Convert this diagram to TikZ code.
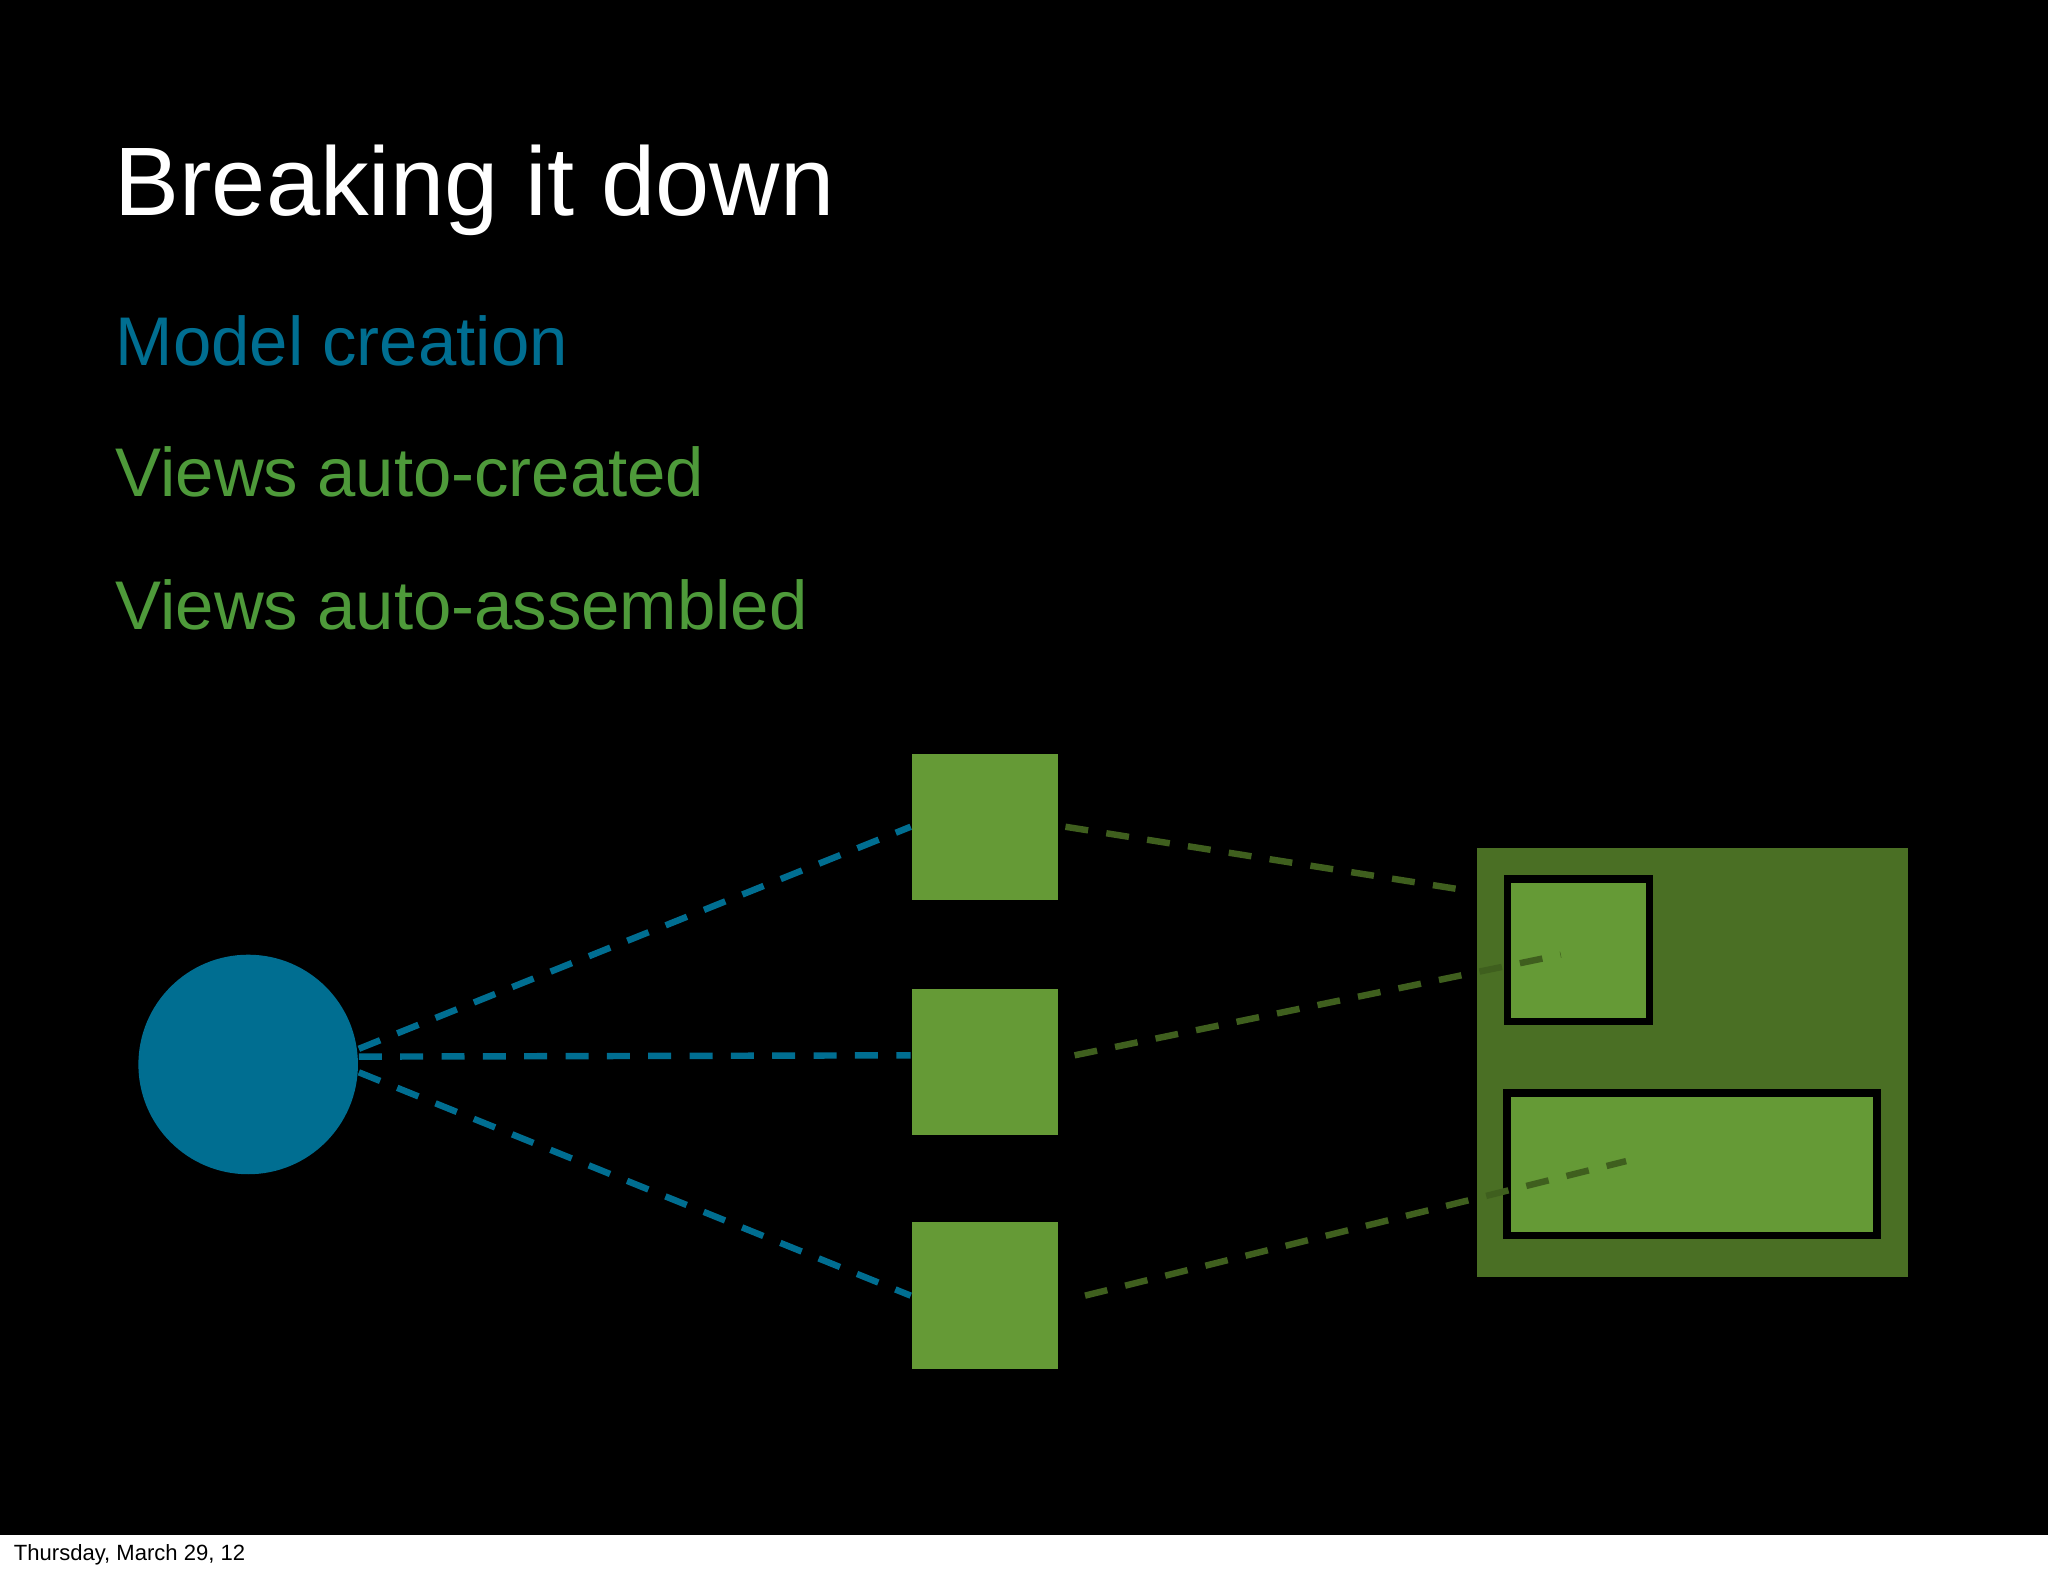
\documentclass[tikz,border=0pt]{standalone}
\usepackage{fontspec}
\setmainfont{Liberation Sans}
\usetikzlibrary{positioning}
\definecolor{modelblue}{HTML}{006E91}
\definecolor{viewgreen}{HTML}{659A36}
\definecolor{darkgreen}{HTML}{4A6F24}
\definecolor{linegreen}{HTML}{3F5F1E}
\definecolor{textgreen}{HTML}{4E9A3A}
\tikzset{
  bullet/.style={anchor=base west, inner sep=0pt, font=\fontsize{15}{18}\selectfont},
  view/.style={fill=viewgreen, minimum width=1.12cm, minimum height=1.12cm, inner sep=0pt},
  link/.style={line width=1.4pt, dash pattern=on 5pt off 4pt},
}
\begin{document}
\begin{tikzpicture}[x=0.01cm, y=-0.01cm]
\useasboundingbox (0,0) rectangle (1568,1207);
\fill[white] (0,0) rectangle (1568,1207);
\fill[black] (0,0) rectangle (1568,1175);

% text
\node[anchor=base west, inner sep=0pt, white, font=\fontsize{21.2}{26}\selectfont] (title) at (87,165) {Breaking it down};
\node[bullet, modelblue] (model) at (88,280) {Model creation};
\node[bullet, textgreen] (created) at (88,380) {Views auto-created};
\node[bullet, textgreen] (assembled) at (88,482) {Views auto-assembled};
\node[anchor=base west, inner sep=0pt, black, font=\fontsize{4.8}{6}\selectfont] (date) at (10,1195) {Thursday, March 29, 12};

% model and views
\node[circle, fill=modelblue, minimum size=1.68cm, inner sep=0pt] (m) at (190,815) {};
\node[view] (v1) at (754,633) {};
\node[view] (v2) at (754,813) {};
\node[view] (v3) at (754,992) {};

% assembled view
\node[fill=darkgreen, minimum width=3.30cm, minimum height=3.29cm, inner sep=0pt] (panel) at (1296,813.5) {};
\node[view, draw=black, line width=1.6pt, minimum width=1.09cm, minimum height=1.09cm] (p1) at (1208.5,727.5) {};
\node[view, draw=black, line width=1.6pt, minimum width=2.83cm, minimum height=1.09cm] (p2) at (1295.5,891.5) {};
\coordinate (e1) at (1118,681);
\coordinate (e2) at (1195,731);
\coordinate (e3) at (1245,889);

\draw[link, modelblue] (m.east) ++(0,-12) -- (v1.west);
\draw[link, modelblue] (m.east) ++(0,-6) -- (v2.west |- 0,808);
\draw[link, modelblue] (m.east) ++(0,6) -- (v3.west);
\draw[link, linegreen] (v1.east) ++(5,0) -- (e1);
\draw[link, linegreen] (v2.east) ++(12,-5) -- (e2);
\draw[link, linegreen] (v3.east) ++(20,0) -- (e3);
\end{tikzpicture}
\end{document}
